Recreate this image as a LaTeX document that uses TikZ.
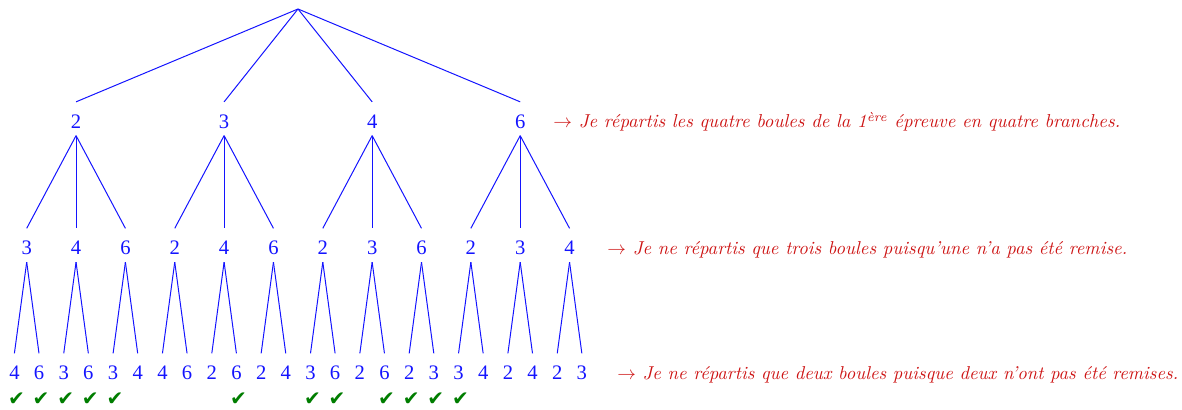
\documentclass[tikz,border=0pt]{standalone}
\usepackage{fontspec}
\newfontfamily\digitfont{Liberation Serif}
\newfontfamily\symfont{DejaVu Sans}
\definecolor{lineblue}{RGB}{20,20,255}
\definecolor{txtred}{RGB}{205,20,20}
\definecolor{chkgreen}{RGB}{0,125,0}
\begin{document}
\begin{tikzpicture}[x=0.5pt,y=-0.5pt,
  num/.style={inner sep=0pt, text height=13pt, text depth=3.5pt, anchor=base,
    text=lineblue, font=\digitfont\fontsize{10.3}{12}\selectfont},
  br/.style={draw=lineblue, line width=0.5pt},
  note/.style={anchor=base west, text=txtred, inner sep=0pt, font=\itshape},
  chk/.style={text=chkgreen, inner sep=0pt, font=\symfont\fontsize{10}{12}\selectfont}]
\useasboundingbox (0,0) rectangle (1182,410);
\coordinate (r) at (298,9);
% level 1
\foreach \v [count=\i from 0] in {2,3,4,6} {
  \pgfmathsetmacro\xx{26.7+49.35*(3*\i+1)}
  \node[num] (a\i) at (\xx,128.25) {\v};
  \draw[br] (r) -- (a\i.north);
}
% level 2
\foreach \v [count=\j from 0] in {3,4,6,2,4,6,2,3,6,2,3,4} {
  \pgfmathtruncatemacro\p{\j/3}
  \pgfmathsetmacro\xx{26.7+49.35*\j}
  \node[num] (b\j) at (\xx,254.75) {\v};
  \draw[br] (a\p.south) -- (b\j.north);
}
% level 3
\foreach \v [count=\k from 0] in {4,6,3,6,3,4,4,6,2,6,2,4,3,6,2,6,2,3,3,4,2,4,2,3} {
  \pgfmathtruncatemacro\p{\k/2}
  \pgfmathsetmacro\xx{26.7+49.35*\p-12.3+24.6*mod(\k,2)}
  \node[num] (l\k) at (\xx,379.75) {\v};
  \draw[br] (b\p.south) -- (l\k.north);
}
% checks
\foreach \k in {0,1,2,3,4,9,12,13,15,16,17,18} {
  \node[chk] (c\k) at ([xshift=1pt,yshift=-9.8pt]l\k.base) {✔};
}
% notes
\node[note] (n1) at (553,128) {\resizebox{283.5pt}{!}{$\rightarrow$ Je répartis les quatre boules de la 1\textsuperscript{ère} épreuve en quatre branches.}};
\node[note] (n2) at (607,255) {\resizebox{260pt}{!}{$\rightarrow$ Je ne répartis que trois boules puisqu'une n'a pas été remise.}};
\node[note] (n3) at (617,380) {\resizebox{280.5pt}{!}{$\rightarrow$ Je ne répartis que deux boules puisque deux n'ont pas été remises.}};
\end{tikzpicture}
\end{document}
